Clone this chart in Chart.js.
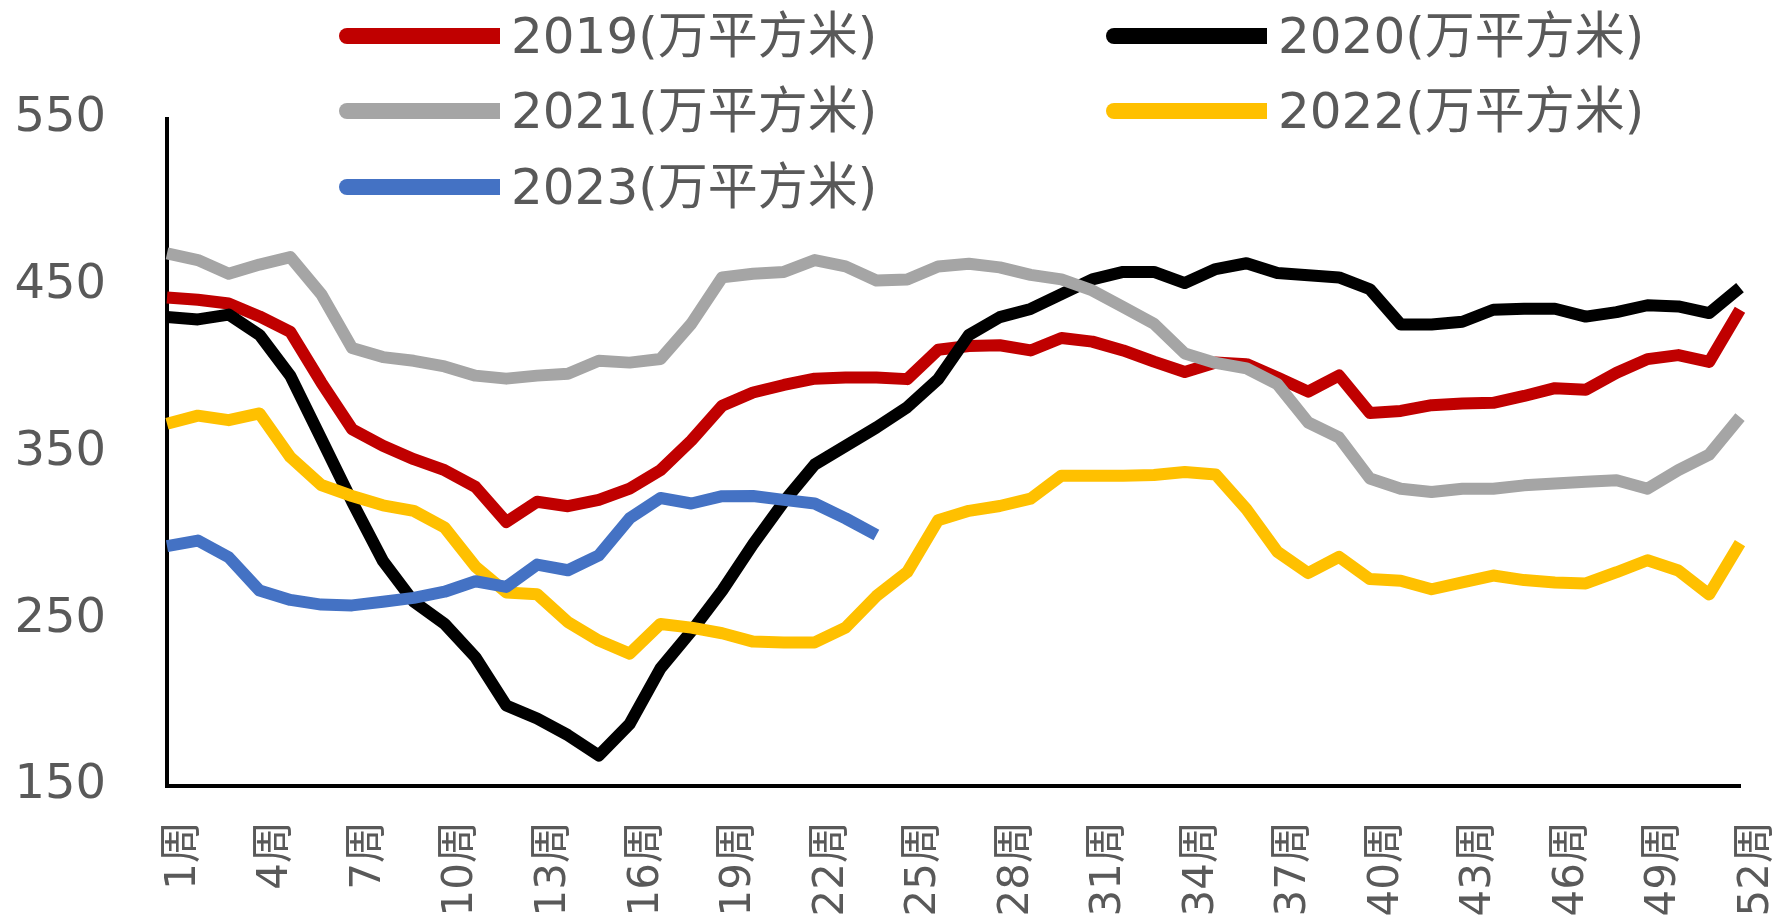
<!DOCTYPE html>
<html>
<head>
<meta charset="utf-8">
<script src="https://cdn.jsdelivr.net/npm/chart.js@4.4.0/dist/chart.umd.min.js"></script>
<style>
    html, body { margin: 0; padding: 0; background: #fff; }
    #wrap { position: relative; width: 1773px; height: 923px; overflow: hidden; }
    #wrap canvas { position: absolute; left: 0; top: 0; }
    #legend .item { position: absolute; display: flex; align-items: center; height: 60px; }
    #legend .swatch { width: 161px; height: 16px; border-radius: 8px 0 0 8px; margin-right: 11px; }
    #legend .text { font-family: "DejaVu Sans", "Noto Sans CJK SC", sans-serif; font-size: 50px; line-height: 60px; color: #595959; white-space: nowrap; }
</style>
</head>
<body>
<div id="wrap">
    <canvas id="chart" width="1773" height="923"></canvas>
    <div id="legend"></div>
</div>
<script>
// 週別 (1周 ~ 52周)
const weekLabels = ['1周', '2周', '3周', '4周', '5周', '6周', '7周', '8周', '9周', '10周',
    '11周', '12周', '13周', '14周', '15周', '16周', '17周', '18周', '19周', '20周',
    '21周', '22周', '23周', '24周', '25周', '26周', '27周', '28周', '29周', '30周',
    '31周', '32周', '33周', '34周', '35周', '36周', '37周', '38周', '39周', '40周',
    '41周', '42周', '43周', '44周', '45周', '46周', '47周', '48周', '49周', '50周',
    '51周', '52周'];

const seriesNames = ['2019(万平方米)', '2020(万平方米)', '2021(万平方米)', '2022(万平方米)', '2023(万平方米)'];
const seriesColors = ['#C00000', '#000000', '#A5A5A5', '#FFC000', '#4472C4'];

const s2019 = [443, 441.6, 439.4, 431.6, 422.3, 392, 364, 354, 346, 339.4,
    329.4, 308.3, 320.5, 317.8, 321.6, 328.3, 339.4, 357.2, 378, 386,
    390.5, 394.3, 395, 395, 394, 411.6, 413.9, 414.3, 411.2, 418.7,
    416.5, 411.2, 404.5, 398.3, 404, 403, 395, 386.5, 396.2, 373.7,
    374.9, 378.4, 379.4, 379.8, 383.9, 388.6, 387.6, 397.8, 406, 408.4,
    404.3, 435.6];
const s2020 = [431.2, 429.8, 432.7, 420.5, 396, 358.3, 320.5, 285, 260.5, 247.2,
    227.2, 198.3, 190.5, 180.5, 168.3, 187.2, 220.5, 242.8, 267.2, 295,
    320.5, 342.8, 353.9, 365, 377.2, 393.9, 420.5, 431.2, 436.1, 445,
    453.8, 458.3, 458.3, 451.6, 460, 463.5, 457.6, 456.3, 455, 447.9,
    426.8, 426.8, 428.4, 435.6, 436.2, 436.2, 431.5, 434.2, 438.3, 437.6,
    433.6, 448.9];
const s2021 = [469.4, 465.4, 457.2, 462.7, 467.2, 445, 412.7, 407.2, 405, 401.6,
    396.1, 394.3, 396.1, 397.2, 405, 403.9, 406.1, 427.2, 455, 457.2,
    458.3, 465.4, 461.6, 453.2, 453.8, 461.6, 463.2, 461, 456.5, 453.8,
    447.2, 437.2, 427.2, 409.4, 403.7, 400.5, 391, 368, 359, 334.4,
    328.3, 326.3, 328.3, 328.3, 330.3, 331.4, 332.4, 333.4, 328.3, 339.5,
    348.7, 371.2];
const s2022 = [367.2, 372.1, 369.4, 373.4, 347.2, 330.5, 323.9, 318.3, 315, 305,
    281.6, 266.1, 265, 248.3, 237.2, 229.4, 247.2, 245, 241.6, 236.6,
    236.1, 236.1, 245, 263.9, 278.3, 309.4, 315, 317.9, 322.3, 336.1,
    336.1, 336.1, 336.5, 338.3, 336.8, 316, 290.5, 277.7, 287.4, 274.1,
    273.1, 268, 272.1, 276.2, 273.5, 272.1, 271.5, 278.2, 285.4, 279.2,
    264.9, 295.6];
const s2023 = [293.9, 297.2, 287.2, 267.2, 261.6, 258.8, 258.3, 260.5, 262.8, 266.5,
    272.8, 269.4, 282.8, 279.4, 288.3, 310.5, 322.7, 319.4, 323.8, 323.9,
    321.6, 319.4, 310.5, 300.5];

const yMin = 150, yMax = 550, yStep = 100;

const seriesList = [s2019, s2020, s2021, s2022, s2023];
const tickColor = '#595959';
const fontFamily = '"DejaVu Sans", "Noto Sans CJK SC", sans-serif';

// 圖例位置 (兩欄排列)
const legendSlots = [
    { left: 339, top: 6 }, { left: 1106, top: 6 },
    { left: 339, top: 81 }, { left: 1106, top: 81 },
    { left: 339, top: 157 }
];

const legendEl = document.getElementById('legend');
seriesNames.forEach((name, i) => {
    const item = document.createElement('div');
    item.className = 'item';
    item.style.left = legendSlots[i].left + 'px';
    item.style.top = legendSlots[i].top + 'px';
    item.innerHTML = `<span class="swatch" style="background:${seriesColors[i]}"></span><span class="text">${name}</span>`;
    legendEl.appendChild(item);
});

const ctx = document.getElementById('chart').getContext('2d');
new Chart(ctx, {
    type: 'line',
    data: {
        labels: weekLabels,
        datasets: seriesList.map((s, i) => ({
            label: seriesNames[i],
            data: s,
            borderColor: seriesColors[i],
            backgroundColor: seriesColors[i],
            borderWidth: 12,
            pointRadius: 0,
            tension: 0,
            fill: false,
            borderJoinStyle: 'round',
            order: seriesList.length - i // 後面的系列畫在上層
        }))
    },
    options: {
        responsive: false, animation: false,
        layout: { padding: { top: 119, left: 14, right: 33, bottom: 0 } },
        plugins: { legend: { display: false }, tooltip: { enabled: false } },
        scales: {
            x: {
                offset: false,
                grid: { display: false, drawTicks: false, tickLength: 0 },
                border: { display: true, color: '#000', width: 4 },
                ticks: {
                    autoSkip: false, minRotation: 90, maxRotation: 90,
                    padding: 35, labelOffset: 17, color: tickColor,
                    font: { family: fontFamily, size: 42 },
                    callback: (v, i) => i % 3 === 0 ? weekLabels[i] : ''
                },
                // 固定軸高，標籤不擠壓繪圖區
                afterFit: (scale) => { scale.height = 137; scale.paddingLeft = 0; scale.paddingRight = 0; }
            },
            y: {
                min: yMin, max: yMax,
                grid: { display: false, drawTicks: false, tickLength: 0 },
                border: { display: true, color: '#000', width: 4 },
                ticks: { stepSize: yStep, padding: 61, color: tickColor, font: { family: fontFamily, size: 48 } },
                afterFit: (scale) => { scale.width = 153; }
            }
        }
    }
});
</script>
</body>
</html>
